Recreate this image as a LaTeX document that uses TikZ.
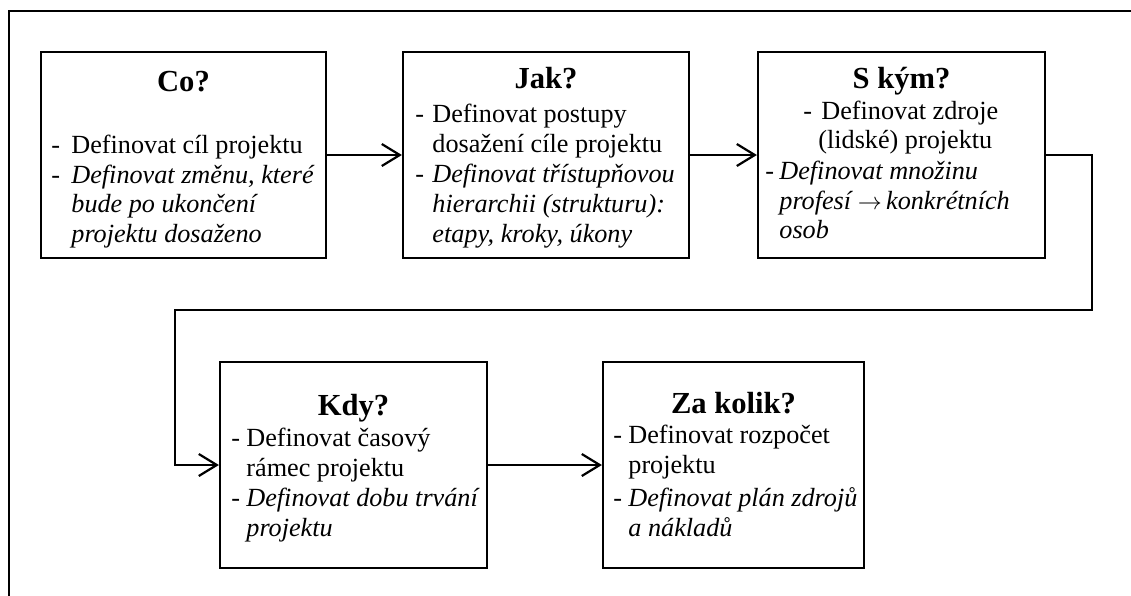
\documentclass[tikz,border=0pt]{standalone}
\usepackage{fontspec}
\setmainfont{Liberation Serif}
\usetikzlibrary{arrows.meta}
\begin{document}
\begin{tikzpicture}[x=0.5pt,y=-0.5pt,
  box/.style={draw, line width=1.1pt, inner sep=0pt},
  flow/.style={line width=1.1pt, -{Straight Barb[length=9pt,width=11pt,line width=1.1pt]}},
  frame/.style={line width=1.1pt},
  title/.style={anchor=base, inner sep=0pt, font=\fontsize{15.3}{18}\selectfont\bfseries},
  body/.style={anchor=base west, inner sep=0pt, font=\fontsize{13.1}{15}\selectfont},
  em/.style={body, font=\fontsize{13.1}{15}\selectfont\itshape}]
\useasboundingbox (0,0) rectangle (1131,595);
\clip (0,0) rectangle (1131,595);
% outer frame (runs off the page on the right and at the bottom)
\draw[frame] (9,640) -- (9,11) -- (1180,11);

% boxes
\node[box, minimum width=142.5pt, minimum height=103pt] (co)  at (183.5,155) {};
\node[box, minimum width=143pt,   minimum height=103pt] (jak) at (546,155) {};
\node[box, minimum width=143.5pt, minimum height=103pt] (skym) at (901.5,155) {};
\node[box, minimum width=133.5pt, minimum height=103pt] (kdy) at (353.5,465) {};
\node[box, minimum width=130.5pt, minimum height=103pt] (zak) at (733.5,465) {};

% Co?
\node[title] (co-t) at (183.5,91) {Co?};
\node[body] (co-d1) at (51,153) {-};
\node[body] (co-1) at (71,153) {Definovat cíl projektu};
\node[body] (co-d2) at (51,183) {-};
\node[em] (co-2) at (71,183) {Definovat změnu, které};
\node[em] (co-3) at (71,212) {bude po ukončení};
\node[em] (co-4) at (71,242) {projektu dosaženo};

% Jak?
\node[title] (jak-t) at (546,88) {Jak?};
\node[body] (jak-d1) at (415,122) {-};
\node[body] (jak-1) at (432,122) {Definovat postupy};
\node[body] (jak-2) at (432,152) {dosažení cíle projektu};
\node[body] (jak-d2) at (415,182) {-};
\node[em] (jak-3) at (432,182) {Definovat třístupňovou};
\node[em] (jak-4) at (432,212) {hierarchii (strukturu):};
\node[em] (jak-5) at (432,242) {etapy, kroky, úkony};

% S kým?
\node[title] (skym-t) at (901.5,88) {S kým?};
\node[body] (skym-d1) at (803,119) {-};
\node[body] (skym-1) at (821,119) {Definovat zdroje};
\node[body] (skym-2) at (818,148) {(lidské) projektu};
\node[body] (skym-d2) at (765,179) {-};
\node[em] (skym-3) at (779,179) {Definovat množinu};
\node[em] (skym-4) at (779,209) {profesí $\rightarrow$\,konkrétních};
\node[em] (skym-5) at (779,238) {osob};

% Kdy?
\node[title] (kdy-t) at (353.5,415) {Kdy?};
\node[body] (kdy-d1) at (231,446) {-};
\node[body] (kdy-1) at (246,446) {Definovat časový};
\node[body] (kdy-2) at (246,476) {rámec projektu};
\node[body] (kdy-d2) at (231,506) {-};
\node[em] (kdy-3) at (246,506) {Definovat dobu trvání};
\node[em] (kdy-4) at (246,536) {projektu};

% Za kolik?
\node[title] (zak-t) at (733.5,413) {Za kolik?};
\node[body] (zak-d1) at (613,443) {-};
\node[body] (zak-1) at (628,443) {Definovat rozpočet};
\node[body] (zak-2) at (628,473) {projektu};
\node[body] (zak-d2) at (613,506) {-};
\node[em] (zak-3) at (628,506) {Definovat plán zdrojů};
\node[em] (zak-4) at (628,536) {a nákladů};

% connectors
\coordinate (turn-r) at (1092,310);
\coordinate (turn-l) at (175,310);
\draw[flow] (co) -- (jak);
\draw[flow] (jak) -- (skym);
\draw[flow] (skym.east) -| (turn-r) -- (turn-l) |- (kdy.west);
\draw[flow] (kdy) -- (zak);
\end{tikzpicture}
\end{document}
